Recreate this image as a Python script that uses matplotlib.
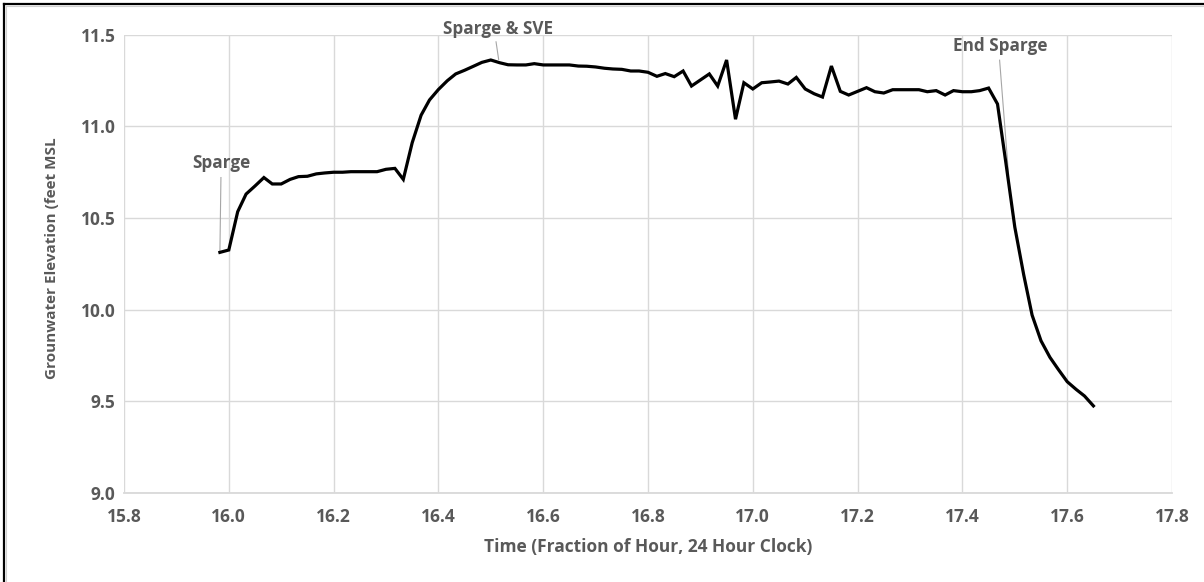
import matplotlib.pyplot as plt
from matplotlib.lines import Line2D

# one reading per minute, time in fraction of hour (24 h clock)
times = [15.983, 16.000, 16.017, 16.033, 16.050, 16.067, 16.083, 16.100, 16.117, 16.133,
         16.150, 16.167, 16.183, 16.200, 16.217, 16.233, 16.250, 16.267, 16.283, 16.300,
         16.317, 16.333, 16.350, 16.367, 16.383, 16.400, 16.417, 16.433, 16.450, 16.467,
         16.483, 16.500, 16.517, 16.533, 16.550, 16.567, 16.583, 16.600, 16.617, 16.633,
         16.650, 16.667, 16.683, 16.700, 16.717, 16.733, 16.750, 16.767, 16.783, 16.800,
         16.817, 16.833, 16.850, 16.867, 16.883, 16.900, 16.917, 16.933, 16.950, 16.967,
         16.983, 17.000, 17.017, 17.033, 17.050, 17.067, 17.083, 17.100, 17.117, 17.133,
         17.150, 17.167, 17.183, 17.200, 17.217, 17.233, 17.250, 17.267, 17.283, 17.300,
         17.317, 17.333, 17.350, 17.367, 17.383, 17.400, 17.417, 17.433, 17.450, 17.467,
         17.483, 17.500, 17.517, 17.533, 17.550, 17.567, 17.583, 17.600, 17.617, 17.633,
         17.650]

levels = [10.312, 10.325, 10.534, 10.630, 10.674, 10.720, 10.685, 10.685, 10.710, 10.725,
          10.727, 10.740, 10.745, 10.749, 10.749, 10.752, 10.752, 10.752, 10.752, 10.765,
          10.770, 10.710, 10.910, 11.060, 11.143, 11.200, 11.248, 11.285, 11.305, 11.327,
          11.348, 11.361, 11.346, 11.335, 11.334, 11.334, 11.341, 11.334, 11.334, 11.334,
          11.334, 11.328, 11.327, 11.323, 11.316, 11.312, 11.310, 11.301, 11.301, 11.294,
          11.272, 11.287, 11.270, 11.301, 11.219, 11.252, 11.285, 11.219, 11.361, 11.038,
          11.237, 11.203, 11.237, 11.241, 11.246, 11.230, 11.266, 11.203, 11.177, 11.159,
          11.328, 11.190, 11.170, 11.190, 11.210, 11.188, 11.181, 11.199, 11.199, 11.199,
          11.199, 11.188, 11.194, 11.170, 11.194, 11.188, 11.188, 11.194, 11.208, 11.121,
          10.800, 10.450, 10.190, 9.970, 9.830, 9.740, 9.674, 9.607, 9.565, 9.529,
          9.475]

# label text, text position, leader line start/end
notes = [
    ("Sparge", (15.986, 10.80), (15.985, 10.72), (15.983, 10.312)),
    ("Sparge & SVE", (16.514, 11.53), (16.510, 11.46), (16.515, 11.364)),
    ("End Sparge", (17.472, 11.437), (17.471, 11.36), (17.488, 10.74)),
]

x_ticks = [15.8, 16.0, 16.2, 16.4, 16.6, 16.8, 17.0, 17.2, 17.4, 17.6, 17.8]
y_ticks = [9.0, 9.5, 10.0, 10.5, 11.0, 11.5]

grey = '#595959'
grid = '#D9D9D9'
plt.rcParams['font.family'] = ['Open Sans', 'DejaVu Sans']
plt.rcParams['font.weight'] = 'bold'

fig = plt.figure(figsize=(12.04, 5.82), dpi=100)
ax = fig.add_axes([124 / 1204, 1 - 493 / 582, 1048 / 1204, 458.5 / 582])

ax.plot(times, levels, color='black', linewidth=2.3, solid_joinstyle='miter', zorder=3)

for label, txt_pos, start, end in notes:
    ax.plot([start[0], end[0]], [start[1], end[1]], color='#A6A6A6', linewidth=0.8,
            zorder=2, clip_on=False)
    ax.text(txt_pos[0], txt_pos[1], label, ha='center', va='center', fontsize=12.3,
            color=grey, fontweight='bold', clip_on=False)

ax.set_xlim(15.8, 17.8)
ax.set_ylim(9.0, 11.5)
ax.set_xticks(x_ticks)
ax.set_yticks(y_ticks)
ax.set_xticklabels([f"{v:.1f}" for v in x_ticks])
ax.set_yticklabels([f"{v:.1f}" for v in y_ticks])
ax.tick_params(axis='both', length=0, labelsize=12.5, labelcolor=grey)
ax.tick_params(axis='x', pad=11)
ax.tick_params(axis='y', pad=6)
for lbl in ax.get_xticklabels() + ax.get_yticklabels():
    lbl.set_fontweight('bold')
ax.grid(True, color=grid, linewidth=1)
for side in ['top', 'right', 'left']:
    ax.spines[side].set_visible(False)
ax.spines['bottom'].set_color(grid)
ax.spines['bottom'].set_linewidth(1.3)

ax.set_xlabel("Time (Fraction of Hour, 24 Hour Clock)", fontsize=12.5, color=grey,
              fontweight='bold', va='center')
ax.xaxis.set_label_coords(0.5, -0.118)
ax.set_ylabel("Grounwater Elevation (feet MSL", fontsize=11, color=grey,
              fontweight='bold', va='center')
ax.yaxis.set_label_coords(-0.0687, 0.5125)

# chart border seen at top/left of the picture
fig.add_artist(Line2D([3.5 / 1204, 3.5 / 1204], [0, 1 - 3.5 / 582], transform=fig.transFigure,
                      color='black', linewidth=1.6))
fig.add_artist(Line2D([3.5 / 1204, 1], [1 - 3.5 / 582, 1 - 3.5 / 582], transform=fig.transFigure,
                      color='black', linewidth=1.6))
fig.add_artist(Line2D([6 / 1204, 6 / 1204], [0, 1 - 6 / 582], transform=fig.transFigure,
                      color='#D0D0D0', linewidth=0.8))
fig.add_artist(Line2D([6 / 1204, 1], [1 - 6 / 582, 1 - 6 / 582], transform=fig.transFigure,
                      color='#D0D0D0', linewidth=0.8))

fig.savefig('out.png', dpi=100, facecolor='white')
